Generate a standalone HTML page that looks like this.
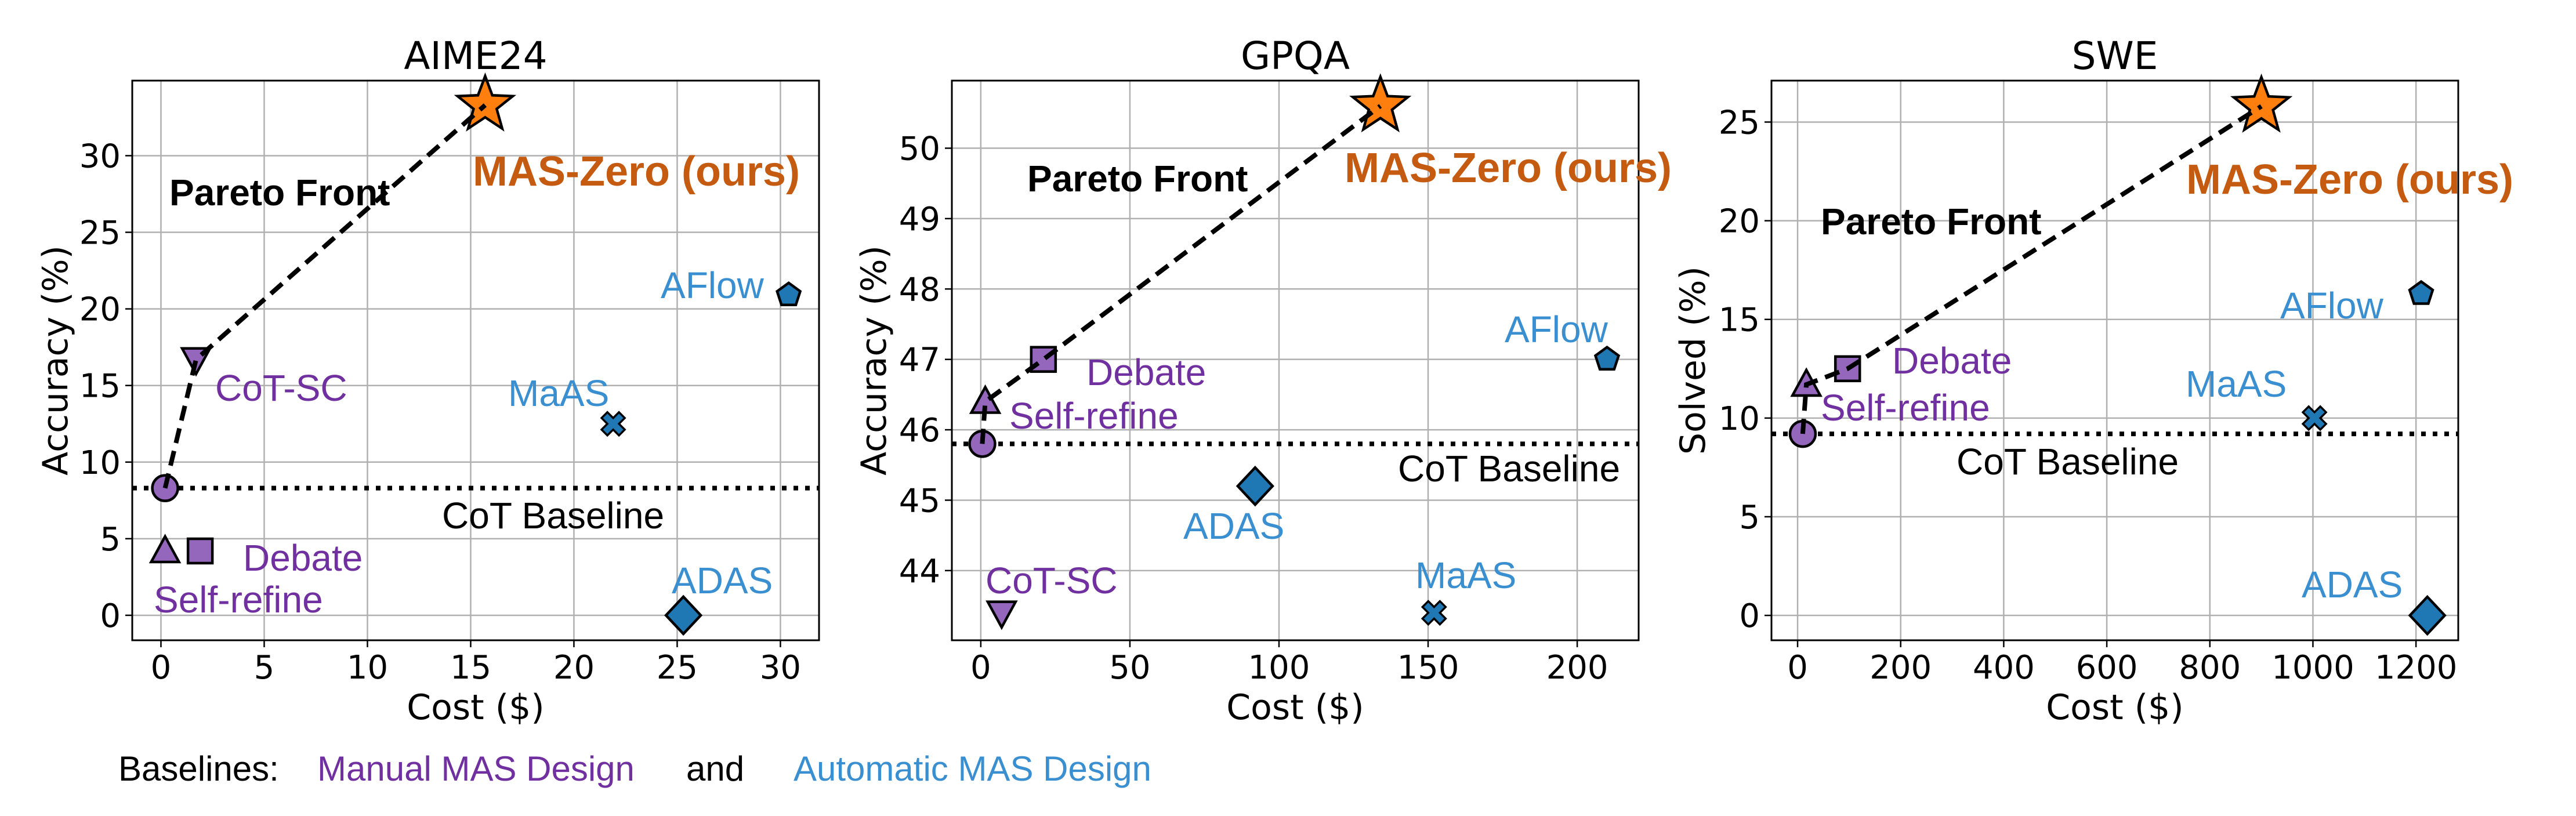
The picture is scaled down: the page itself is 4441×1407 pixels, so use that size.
<!DOCTYPE html>
<html><head><meta charset="utf-8"><style>
body{margin:0;background:#fff}
svg{display:block}
text{font-family:"DejaVu Sans",sans-serif}
.a{font-family:"Liberation Sans",Arial,sans-serif}
</style></head><body>
<svg id="fig" width="4441" height="1407" viewBox="0 0 4441 1407" xmlns="http://www.w3.org/2000/svg">
<g id="legend">
<text class="a" x="204" y="1346" font-size="60" fill="#000">Baselines:</text>
<text class="a" x="547" y="1346" font-size="60" fill="#7030a0">Manual MAS Design</text>
<text class="a" x="1183" y="1346" font-size="60" fill="#000">and</text>
<text class="a" x="1368" y="1346" font-size="60" fill="#3a8fd0">Automatic MAS Design</text>
</g>
</svg>
<script>
// ---- data ----
const panelTitles = ["AIME24","GPQA","SWE"];
const yTitles = ["Accuracy (%)","Accuracy (%)","Solved (%)"];
const methods = ["CoT","CoT-SC","Self-refine","Debate","ADAS","MaAS","AFlow","MAS-Zero (ours)"];
const costAIME = [0.2,1.7,0.2,1.9,25.3,21.9,30.4,15.7];
const accAIME  = [8.3,16.7,4.2,4.2,0,12.5,20.9,33.3];
const costGPQA = [0.5,7,1.5,21,92,152,210,134];
const accGPQA  = [45.8,43.4,46.4,47.0,45.2,43.4,47.0,50.6];
const costSWE  = [10,30,17,97,1222,1003,1210,900];
const accSWE   = [9.2,null,11.7,12.5,0,10,16.3,25.8];
const xTicksAIME = [0,5,10,15,20,25,30];
const yTicksAIME = [0,5,10,15,20,25,30];
const xTicksGPQA = [0,50,100,150,200];
const yTicksGPQA = [44,45,46,47,48,49,50];
const xTicksSWE = [0,200,400,600,800,1000,1200];
const yTicksSWE = [0,5,10,15,20,25];
const frontAIME = ["CoT","CoT-SC","MAS-Zero (ours)"];
const frontGPQA = ["CoT","Self-refine","Debate","MAS-Zero (ours)"];
const frontSWE = ["CoT","Self-refine","Debate","MAS-Zero (ours)"];

const NS="http://www.w3.org/2000/svg";
const svg=document.getElementById('fig');
function mk(tag,attrs,parent){const e=document.createElementNS(NS,tag);for(const k in attrs)e.setAttribute(k,attrs[k]);(parent||svg).appendChild(e);return e;}

const panels=[
 {L:228,R:1412,xmin:-1.39,xmax:31.87,ymin:-1.63,ymax:34.9,cost:costAIME,acc:accAIME,xt:xTicksAIME,yt:yTicksAIME,front:frontAIME,ylx:96,
  labels:{"Pareto Front":[292,354],"MAS-Zero (ours)":[815,320],"CoT-SC":[371,691],"MaAS":[876,700],"AFlow":[1139,514],"CoT Baseline":[762,911],"Debate":[419,984],"Self-refine":[265,1056],"ADAS":[1158,1023]}},
 {L:1641,R:2825,xmin:-9.7,xmax:220.6,ymin:43.01,ymax:50.96,cost:costGPQA,acc:accGPQA,xt:xTicksGPQA,yt:yTicksGPQA,front:frontGPQA,ylx:1507,
  labels:{"Pareto Front":[1771,330],"MAS-Zero (ours)":[2318,314],"CoT-SC":[1699,1023],"MaAS":[2440,1014],"AFlow":[2594,590],"CoT Baseline":[2410,830],"Debate":[1873,664],"Self-refine":[1740,739],"ADAS":[2040,929]}},
 {L:3054,R:4238,xmin:-50.7,xmax:1282,ymin:-1.26,ymax:27.1,cost:costSWE,acc:accSWE,xt:xTicksSWE,yt:yTicksSWE,front:frontSWE,ylx:2919,
  labels:{"Pareto Front":[3139,404],"MAS-Zero (ours)":[3769,334],"MaAS":[3768,684],"AFlow":[3931,549],"CoT Baseline":[3373,818],"Debate":[3262,644],"Self-refine":[3139,725],"ADAS":[3968,1030]}}
];
const T=139,B=1104;
const purple="#9467bd",blue="#1f77b4";
const labelColor={"Pareto Front":"#000","MAS-Zero (ours)":"#c55a11","CoT Baseline":"#000","CoT-SC":"#7030a0","Debate":"#7030a0","Self-refine":"#7030a0","MaAS":"#3a8fd0","AFlow":"#3a8fd0","ADAS":"#3a8fd0"};

function marker(g,name,cx,cy){
  let e;
  const st={stroke:"#000","stroke-width":4.5};
  if(name==="CoT"){e=mk('circle',{cx,cy,r:22,fill:purple,...st},g);}
  else if(name==="CoT-SC"){e=mk('polygon',{points:`${cx-24},${cy-19} ${cx+24},${cy-19} ${cx},${cy+25}`,fill:purple,...st},g);}
  else if(name==="Self-refine"){e=mk('polygon',{points:`${cx-24},${cy+19} ${cx+24},${cy+19} ${cx},${cy-25}`,fill:purple,...st},g);}
  else if(name==="Debate"){e=mk('rect',{x:cx-21,y:cy-21,width:42,height:42,fill:purple,...st},g);}
  else if(name==="ADAS"){e=mk('polygon',{points:`${cx},${cy-32} ${cx+30},${cy} ${cx},${cy+32} ${cx-30},${cy}`,fill:blue,...st},g);}
  else if(name==="MaAS"){const s=10,l=20;e=mk('polygon',{points:`${cx-l},${cy-l+s} ${cx-l+s},${cy-l} ${cx},${cy-s} ${cx+l-s},${cy-l} ${cx+l},${cy-l+s} ${cx+s},${cy} ${cx+l},${cy+l-s} ${cx+l-s},${cy+l} ${cx},${cy+s} ${cx-l+s},${cy+l} ${cx-l},${cy+l-s} ${cx-s},${cy}`,fill:blue,"stroke":"#000","stroke-width":3.5},g);}
  else if(name==="AFlow"){let p=[];for(let i=0;i<5;i++){const a=-Math.PI/2+i*2*Math.PI/5;p.push((cx+21*Math.cos(a)).toFixed(1)+","+(cy+21*Math.sin(a)).toFixed(1));}e=mk('polygon',{points:p.join(' '),fill:blue,...st},g);}
  else {let p=[];for(let i=0;i<10;i++){const r=i%2?21:50;const a=-Math.PI/2+i*Math.PI/5;p.push((cx+r*Math.cos(a)).toFixed(1)+","+(cy+r*Math.sin(a)).toFixed(1));}e=mk('polygon',{points:p.join(' '),fill:"#ff7f0e",stroke:"#000","stroke-width":4.5},g);}
  return e;
}

panels.forEach((P,pi)=>{
  const sx=v=>P.L+(v-P.xmin)/(P.xmax-P.xmin)*(P.R-P.L);
  const sy=v=>B-(v-P.ymin)/(P.ymax-P.ymin)*(B-T);
  const g=mk('g',{});
  
  
  P.xt.forEach(t=>{
    const x=sx(t);
    const gl=mk('line',{x1:x,x2:x,y1:T,y2:B,stroke:"#b0b0b0","stroke-width":2.5},g);
    
    
    mk('line',{x1:x,x2:x,y1:B,y2:B+12,stroke:"#000","stroke-width":2.5},g);
    const tl=mk('text',{x:x,y:1170,"font-size":56,"text-anchor":"middle"},g);
    tl.textContent=t;
    
    
  });
  P.yt.forEach(t=>{
    const y=sy(t);
    const gl=mk('line',{x1:P.L,x2:P.R,y1:y,y2:y,stroke:"#b0b0b0","stroke-width":2.5},g);
    
    
    mk('line',{x1:P.L-12,x2:P.L,y1:y,y2:y,stroke:"#000","stroke-width":2.5},g);
    const tl=mk('text',{x:P.L-20,y:y+20,"font-size":56,"text-anchor":"end"},g);
    tl.textContent=t;
    
    
  });
  const cotY=sy(P.acc[0]);
  const bl=mk('line',{x1:P.L,x2:P.R,y1:cotY,y2:cotY,stroke:"#000","stroke-width":8,"stroke-dasharray":"8 12"},g);
  
  
  const pts=P.front.map(n=>{const i=methods.indexOf(n);return sx(P.cost[i]).toFixed(1)+","+sy(P.acc[i]).toFixed(1);}).join(' ');
  methods.forEach((n,i)=>{
    if(P.acc[i]===null||(pi===2&&n==="CoT-SC"))return;
    const m=marker(g,n,sx(P.cost[i]),sy(P.acc[i]));
    
    
  });
  const pl=mk('polyline',{points:pts,fill:"none",stroke:"#000","stroke-width":8,"stroke-dasharray":"26 14"},g);
  
  
  const fr=mk('rect',{x:P.L,y:T,width:P.R-P.L,height:B-T,fill:"none",stroke:"#000","stroke-width":3},g);
  
  
  for(const k in P.labels){
    const bold=(k==="Pareto Front"||k==="MAS-Zero (ours)");
    const t=mk('text',{x:P.labels[k][0],y:P.labels[k][1],"font-size":bold?(k==="Pareto Front"?64:72):64,"font-weight":bold?"bold":"normal",fill:labelColor[k],"class":"a"},g);
    t.textContent=k;
    
    
  }
  const tt=mk('text',{x:(P.L+P.R)/2,y:119,"font-size":66,"text-anchor":"middle"},g);
  tt.textContent=panelTitles[pi];
  
  
  const xl=mk('text',{x:(P.L+P.R)/2,y:1240,"font-size":60,"text-anchor":"middle"},g);
  xl.textContent="Cost ($)";
  
  
  const yl=mk('text',{x:0,y:0,"font-size":60,"text-anchor":"middle",transform:`translate(${P.ylx+20},${(T+B)/2}) rotate(-90)`},g);
  yl.textContent=yTitles[pi];
  
  
});
</script>
</body></html>
